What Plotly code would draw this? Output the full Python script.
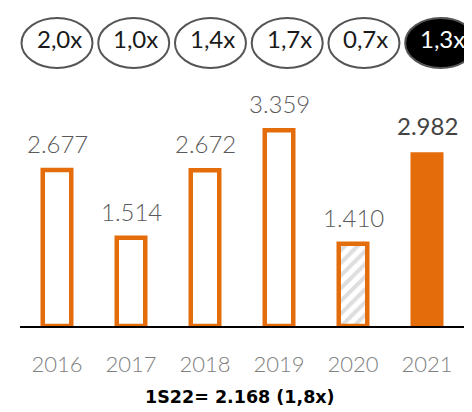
import plotly.graph_objects as go

# ---- data ----
years = ["2016", "2017", "2018", "2019", "2020", "2021"]
values = [2677, 1514, 2672, 3359, 1410, 2982]
value_labels = ["2.677", "1.514", "2.672", "3.359", "1.410", "2.982"]
multiples = ["2,0x", "1,0x", "1,4x", "1,7x", "0,7x", "1,3x"]
footnote = "1S22= 2.168 (1,8x)"

# ---- layout constants (page has an 8px body margin) ----
PAGE_OFF = 8
W, H = 472 - PAGE_OFF, 412 - PAGE_OFF
ML, MR, MT, MB = 20 - PAGE_OFF, 8, 100 - PAGE_OFF, 86
PW, PH = W - ML - MR, H - MT - MB
ORANGE = "#E46C0A"
FONT = "Lato"
YMAX = 3876
LINE_W = 4.5
STEP = PW / len(years)

outlined_idx = [0, 1, 2, 3]
hatched_idx = [4]
filled_idx = [5]

fig = go.Figure()

fig.add_trace(go.Bar(
    x=[years[i] for i in outlined_idx], y=[values[i] for i in outlined_idx],
    width=(33 - LINE_W) / STEP,
    marker=dict(color="white", line=dict(color=ORANGE, width=LINE_W)),
    hoverinfo="skip",
))
fig.add_trace(go.Bar(
    x=[years[i] for i in hatched_idx], y=[values[i] for i in hatched_idx],
    width=(33 - LINE_W) / STEP,
    marker=dict(color="white", line=dict(color=ORANGE, width=LINE_W),
                pattern=dict(shape="/", fgcolor="#bdbdbd", bgcolor="white",
                             size=9, solidity=0.45)),
    hoverinfo="skip",
))
fig.add_trace(go.Bar(
    x=[years[i] for i in filled_idx], y=[values[i] for i in filled_idx],
    width=33 / STEP,
    marker=dict(color=ORANGE, line=dict(width=0)),
    hoverinfo="skip",
))

annotations = []
for i, (v, lab) in enumerate(zip(values, value_labels)):
    bold = i in filled_idx
    annotations.append(dict(
        x=i, y=v, xref="x", yref="y", text=lab, showarrow=False,
        xanchor="center", yanchor="bottom", yshift=10,
        font=dict(family=FONT, size=24, color="#444444" if bold else "#5a5a5a",
                  weight=400 if bold else 300),
    ))


def px_x(p):
    """page pixel x -> paper fraction"""
    return (p - PAGE_OFF - ML) / PW


def px_y(p):
    """page pixel y -> paper fraction"""
    return (H - MB - (p - PAGE_OFF)) / PH


shapes = []
OVAL_W, OVAL_H, OVAL_CY, TEXT_CY = 71, 50, 43, 39
for i, m in enumerate(multiples):
    cx = ML + PAGE_OFF + STEP * (i * 1.037 + 0.5)
    last = i == len(multiples) - 1
    shapes.append(dict(
        type="circle", xref="paper", yref="paper",
        x0=px_x(cx - OVAL_W / 2), x1=px_x(cx + OVAL_W / 2),
        y0=px_y(OVAL_CY + OVAL_H / 2), y1=px_y(OVAL_CY - OVAL_H / 2),
        line=dict(color="#555555", width=2),
        fillcolor="black" if last else "white",
        layer="above",
    ))
    annotations.append(dict(
        x=px_x(cx + 2), y=px_y(TEXT_CY), xref="paper", yref="paper",
        text=m, showarrow=False, xanchor="center", yanchor="middle",
        font=dict(family=FONT, size=24, color="white" if last else "#1a1a1a",
                  weight=400),
    ))

annotations.append(dict(
    x=px_x(240), y=px_y(397), xref="paper", yref="paper",
    text="<b>" + footnote + "</b>", showarrow=False,
    xanchor="center", yanchor="middle",
    font=dict(family="DejaVu Sans", size=17.5, color="black"),
))

fig.update_layout(
    width=W, height=H,
    margin=dict(l=ML, r=MR, t=MT, b=MB, pad=0),
    paper_bgcolor="white", plot_bgcolor="white",
    barmode="overlay", showlegend=False,
    xaxis=dict(type="category", categoryorder="array", categoryarray=years,
               range=[-0.5, len(years) - 0.5],
               showline=True, linecolor="black", linewidth=2,
               showgrid=False, zeroline=False, ticks="",
               tickfont=dict(family=FONT, size=22, color="#808080", weight=300),
               ticklabelstandoff=18),
    yaxis=dict(range=[0, YMAX], visible=False, showgrid=False, zeroline=False),
    shapes=shapes, annotations=annotations,
)

fig.write_html("out.html")
